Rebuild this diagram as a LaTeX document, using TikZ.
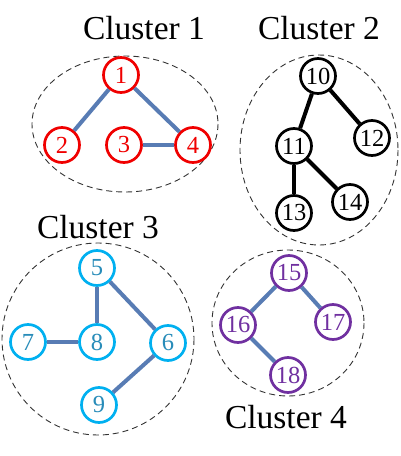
\documentclass[tikz,border=0pt]{standalone}
\usepackage{fontspec}
\setmainfont{Liberation Serif}
\definecolor{edgeblue}{RGB}{88,124,180}
\definecolor{cred}{RGB}{240,0,0}
\definecolor{ccyan}{RGB}{0,176,240}
\definecolor{ccyantext}{RGB}{40,140,185}
\definecolor{cpurple}{RGB}{112,48,160}
\tikzset{
  vtx/.style={circle, draw, line width=2.7pt, minimum size=35pt, inner sep=0pt, fill=white, font=\fontsize{24.5}{24.5}\selectfont},
  rednode/.style={vtx, draw=cred, text=cred},
  blacknode/.style={vtx, draw=black, text=black},
  cyannode/.style={vtx, draw=ccyan, text=ccyantext},
  purplenode/.style={vtx, draw=cpurple, text=cpurple},
  blueedge/.style={line width=4pt, draw=edgeblue},
  blackedge/.style={line width=4pt, draw=black},
  cluster/.style={draw=black!80, dashed, dash pattern=on 6pt off 4pt, line width=0.9pt},
  clabel/.style={font=\fontsize{33.5}{33.5}\selectfont, inner sep=0pt, anchor=base}
}
\begin{document}
\begin{tikzpicture}[x=1pt,y=-1pt]
\useasboundingbox (0,0) rectangle (401,456);
% clusters
\draw[cluster] (125,124) ellipse [x radius=93, y radius=68];
\draw[cluster] (319,150) ellipse [x radius=79, y radius=95];
\draw[cluster] (98,339) ellipse [x radius=96, y radius=96];
\draw[cluster] (288,323) ellipse [x radius=76, y radius=73];
% labels
\node[clabel] (l1) at (144,39) {Cluster 1};
\node[clabel] (l2) at (319,39) {Cluster 2};
\node[clabel] (l3) at (98,238) {Cluster 3};
\node[clabel] (l4) at (286,428) {Cluster 4};
% cluster 1
\node[rednode] (n1) at (121,75) {1};
\node[rednode] (n2) at (62,145) {2};
\node[rednode] (n3) at (124,145) {3};
\node[rednode] (n4) at (193,145) {4};
% cluster 2
\node[blacknode] (n10) at (318,76) {10};
\node[blacknode] (n11) at (294,146) {11};
\node[blacknode] (n12) at (372,138) {12};
\node[blacknode] (n13) at (294,213) {13};
\node[blacknode] (n14) at (350,202) {14};
% cluster 3
\node[cyannode] (n5) at (97,268) {5};
\node[cyannode] (n7) at (28,342) {7};
\node[cyannode] (n8) at (97,342) {8};
\node[cyannode] (n6) at (168,343) {6};
\node[cyannode] (n9) at (99,405) {9};
% cluster 4
\node[purplenode] (n15) at (289,273) {15};
\node[purplenode] (n16) at (238,325) {16};
\node[purplenode] (n17) at (333,322) {17};
\node[purplenode] (n18) at (288,375) {18};
% edges
\draw[blueedge] (n1) -- (n2);
\draw[blueedge] (n1) -- (n4);
\draw[blueedge] (n3) -- (n4);
\draw[blackedge] (n10) -- (n11);
\draw[blackedge] (n10) -- (n12);
\draw[blackedge] (n11) -- (n13);
\draw[blackedge] (n11) -- (n14);
\draw[blueedge] (n5) -- (n8);
\draw[blueedge] (n7) -- (n8);
\draw[blueedge] (n5) -- (n6);
\draw[blueedge] (n6) -- (n9);
\draw[blueedge] (n15) -- (n16);
\draw[blueedge] (n15) -- (n17);
\draw[blueedge] (n16) -- (n18);
\end{tikzpicture}
\end{document}
